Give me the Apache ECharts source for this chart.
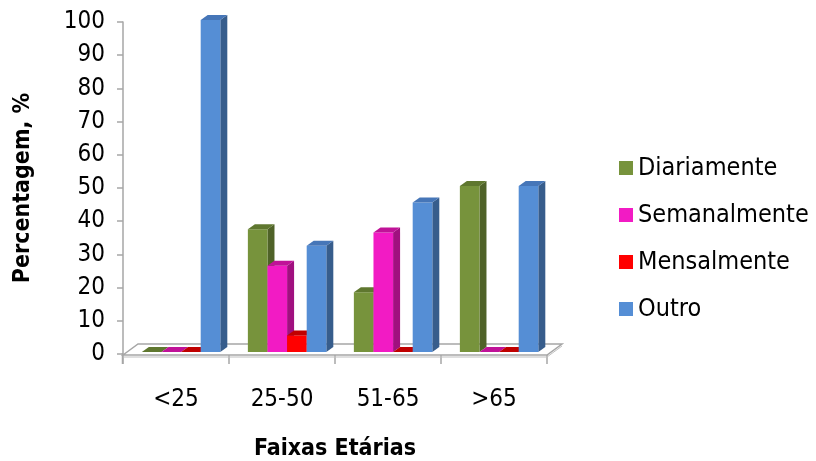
<!DOCTYPE html>
<html>
<head>
<meta charset="utf-8">
<script src="https://cdn.jsdelivr.net/npm/echarts@6/dist/echarts.min.js"></script>
<style>
  html, body { margin: 0; padding: 0; background: #ffffff; }
  #chart { width: 816px; height: 461px; }
</style>
</head>
<body>
<div id="chart"></div>
<script>
// Age groups on the horizontal axis
const categories = ['<25', '25-50', '51-65', '>65'];

// Share of respondents (%) per frequency, one value per age group
const diariamente  = [0, 37, 18, 50];
const semanalmente = [0, 26, 36, 0];
const mensalmente  = [0, 5, 0, 0];
const outro        = [100, 32, 45, 50];

const seriesNames = ['Diariamente', 'Semanalmente', 'Mensalmente', 'Outro'];
const seriesValues = [diariamente, semanalmente, mensalmente, outro];

// Front, side and top shades of each prism
const shades = [
  { front: '#77933C', side: '#4F6228', top: '#5F772F' },
  { front: '#F21BC4', side: '#A0107F', top: '#C01298' },
  { front: '#FF0000', side: '#B00000', top: '#C00000' },
  { front: '#558ED5', side: '#375D8C', top: '#4676B8' }
];

const FONT = 'DejaVu Sans Condensed';

// Pseudo-3D column: front face, right side and top
function prismRenderer(si) {
  return function (params, api) {
    const cat = api.value(0);
    const v = api.value(1);
    const base = api.coord([cat, 0]);
    const top = api.coord([cat, v]);
    const cw = api.size([1, 0])[0];
    const w = cw * 0.185;
    const x0 = base[0] - cw * 0.322 + si * w;
    const yb = base[1] - 2;
    const yt = top[1] - 2;
    const dx = 7, dy = -5;
    const c = shades[si];
    return {
      type: 'group',
      children: [
        {
          type: 'polygon',
          shape: { points: [[x0 + w, yt], [x0 + w + dx, yt + dy], [x0 + w + dx, yb + dy], [x0 + w, yb]] },
          style: { fill: c.side }
        },
        {
          type: 'rect',
          shape: { x: x0, y: yt, width: w, height: yb - yt },
          style: { fill: c.front }
        },
        {
          type: 'polygon',
          shape: { points: [[x0, yt], [x0 + dx, yt + dy], [x0 + w + dx, yt + dy], [x0 + w, yt]] },
          style: { fill: c.top }
        }
      ]
    };
  };
}

// Floor slab under the columns, plus the short drop of the value axis below it
function floorRenderer(params, api) {
  const first = api.coord([0, 0]);
  const last = api.coord([categories.length - 1, 0]);
  const cw = api.size([1, 0])[0];
  const xl = first[0] - cw / 2;
  const xr = last[0] + cw / 2;
  const y = first[1] + 1;
  const dx = 15, dy = -11;
  return {
    type: 'group',
    children: [
      {
        type: 'polygon',
        shape: { points: [[xl, y], [xl + dx, y + dy], [xr + dx, y + dy], [xr, y]] },
        style: { fill: '#ffffff', stroke: '#A6A6A6', lineWidth: 1.5 }
      },
      {
        type: 'polyline',
        shape: { points: [[xl, y + 2], [xr, y + 2], [xr + dx, y + dy + 2]] },
        style: { fill: null, stroke: '#BFBFBF', lineWidth: 1 }
      },
      {
        type: 'line',
        shape: { x1: xl - 0.5, y1: y - 2, x2: xl - 0.5, y2: y + 9 },
        style: { stroke: '#A6A6A6', lineWidth: 1.5 }
      }
    ]
  };
}

const series = [{
  type: 'custom',
  name: 'floor',
  renderItem: floorRenderer,
  data: [[0, 0]],
  silent: true,
  z: 1
}];

seriesNames.forEach(function (name, si) {
  series.push({
    type: 'custom',
    name: name,
    renderItem: prismRenderer(si),
    itemStyle: { color: shades[si].front },
    data: seriesValues[si].map(function (v, i) { return [i, v]; }),
    z: 2
  });
});

const chart = echarts.init(document.getElementById('chart'), null, { renderer: 'canvas' });
chart.setOption({
  animation: false,
  backgroundColor: '#ffffff',
  textStyle: { fontFamily: FONT },
  grid: { left: 123, right: 269, top: 22, bottom: 107, containLabel: false, outerBoundsMode: 'none' },
  legend: {
    data: seriesNames,
    orient: 'vertical',
    left: 614,
    top: 150,
    itemWidth: 14,
    itemHeight: 14,
    itemGap: 21,
    icon: 'rect',
    textStyle: { fontFamily: FONT, fontSize: 25, color: '#000000', lineHeight: 26 }
  },
  xAxis: {
    type: 'category',
    data: categories,
    name: 'Faixas Etárias',
    nameLocation: 'middle',
    nameGap: 84,
    nameTextStyle: { fontFamily: FONT, fontSize: 23, fontWeight: 'bold', color: '#000000' },
    axisLine: { show: false },
    axisTick: { show: true, length: 10, lineStyle: { color: '#A6A6A6', width: 1.5 } },
    axisLabel: { fontFamily: FONT, fontSize: 24, color: '#000000', margin: 34 },
    splitLine: { show: false }
  },
  yAxis: {
    type: 'value',
    min: 0,
    max: 100,
    interval: 10,
    name: 'Percentagem, %',
    nameLocation: 'middle',
    nameGap: 88,
    nameTextStyle: { fontFamily: FONT, fontSize: 23, fontWeight: 'bold', color: '#000000' },
    axisLine: { show: true, lineStyle: { color: '#A6A6A6', width: 1.5 } },
    axisTick: { show: true, length: 6, lineStyle: { color: '#A6A6A6', width: 1.5 } },
    axisLabel: { fontFamily: FONT, fontSize: 24, color: '#000000', margin: 18, padding: [4, 0, 0, 0] },
    splitLine: { show: false }
  },
  series: series
});
</script>
</body>
</html>
